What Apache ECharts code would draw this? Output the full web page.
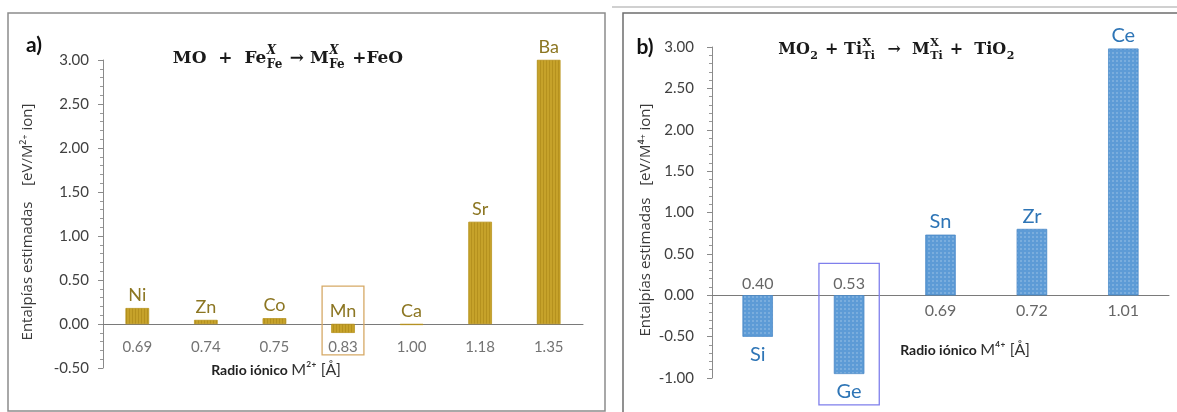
<!DOCTYPE html>
<html><head><meta charset="utf-8">
<script src="https://cdn.jsdelivr.net/npm/echarts@6/dist/echarts.min.js"></script>
<style>html,body{margin:0;padding:0;background:#fff}#c{width:1177px;height:412px}</style>
</head><body><div id="c"></div>
<script>
// ---- data (panel a) ----
const radiiA = ['0.69', '0.74', '0.75', '0.83', '1.00', '1.18', '1.35'];
const elementsA = ['Ni', 'Zn', 'Co', 'Mn', 'Ca', 'Sr', 'Ba'];
const valuesA = [0.18, 0.045, 0.065, -0.10, -0.01, 1.16, 3.00];
const yTicksA = [-0.5, 0, 0.5, 1.0, 1.5, 2.0, 2.5, 3.0];
// ---- data (panel b) ----
const radiiB = ['0.40', '0.53', '0.69', '0.72', '1.01'];
const elementsB = ['Si', 'Ge', 'Sn', 'Zr', 'Ce'];
const valuesB = [-0.50, -0.95, 0.73, 0.80, 2.98];
const yTicksB = [-1.0, -0.5, 0, 0.5, 1.0, 1.5, 2.0, 2.5, 3.0];
const highlightA = 'Mn';
const highlightB = 'Ge';

const SERIF = '"DejaVu Serif", "Liberation Serif", serif';

function buildMath(parts, cx, cy, size) {
  const ctx = document.createElement('canvas').getContext('2d');
  const main = 'bold ' + size + 'px ' + SERIF;
  const ss = Math.round(size * 0.7);
  const small = 'bold ' + ss + 'px ' + SERIF;
  const smallI = 'italic bold ' + ss + 'px ' + SERIF;
  const items = []; let x = 0;
  parts.forEach(p => {
    if (p.t !== undefined) {
      ctx.font = main; const w = ctx.measureText(p.t).width;
      items.push({ text: p.t, font: main, x: x, dy: 0 }); x += w;
    } else {
      let w = 0;
      if (p.sup) { const f = p.it ? smallI : small; ctx.font = f; w = Math.max(w, ctx.measureText(p.sup).width); items.push({ text: p.sup, font: f, x: x + 0.5, dy: -size * 0.45 }); }
      if (p.sub) { ctx.font = small; w = Math.max(w, ctx.measureText(p.sub).width); items.push({ text: p.sub, font: small, x: x + 0.5, dy: size * 0.36 }); }
      x += w + 2;
    }
  });
  const x0 = cx - x / 2;
  return items.map(it => ({
    type: 'text', x: x0 + it.x, y: cy + it.dy, silent: true,
    style: { text: it.text, font: it.font, fill: '#1a1a1a', textVerticalAlign: 'middle', verticalAlign: 'middle', textAlign: 'left', align: 'left' }
  }));
}

const titleA = buildMath([
  { t: 'MO  +  Fe' }, { sup: 'X', sub: 'Fe', it: true }, { t: ' \u2192 M' }, { sup: 'X', sub: 'Fe', it: true }, { t: ' +FeO' }
], 288, 59, 17);
const titleB = buildMath([
  { t: 'MO' }, { sub: '2' }, { t: ' + Ti' }, { sup: 'X', sub: 'Ti' }, { t: '  \u2192  M' }, { sup: 'X', sub: 'Ti' }, { t: ' +  TiO' }, { sub: '2' }
], 897, 50, 16);

function txt(x, y, text, font, fill, rot, align) {
  return { type: 'text', x: x, y: y, rotation: rot || 0, silent: true,
    style: { text: text, font: font, fill: fill, textAlign: align || 'center', align: align || 'center', textVerticalAlign: 'middle', verticalAlign: 'middle' } };
}
function richTxt(x, y, text, rich) {
  return { type: 'text', x: x, y: y, silent: true,
    style: { text: text, rich: rich, textAlign: 'center', align: 'center', textVerticalAlign: 'middle', verticalAlign: 'middle' } };
}
const axisRich = {
  b: { fontFamily: 'Lato', fontWeight: 'bold', fontSize: 14, fill: '#222', color: '#222' },
  n: { fontFamily: 'Lato', fontSize: 16, fill: '#333', color: '#333' }
};

function yAxisCfg(grid, ticks, margin) {
  return {
    gridIndex: grid, type: 'value', min: ticks[0], max: ticks[ticks.length - 1], interval: ticks[1] - ticks[0],
    axisLine: { show: true, lineStyle: { color: '#8a8a8a', width: 1 } },
    axisTick: { show: true, length: 5, lineStyle: { color: '#8a8a8a' } },
    minorTick: { show: true, splitNumber: 5, length: 3, lineStyle: { color: '#999' } },
    splitLine: { show: false },
    axisLabel: { formatter: v => v.toFixed(2), color: '#404040', fontSize: 15, fontFamily: 'Lato', margin: margin }
  };
}
function xAxisCfg(grid, cats) {
  return { gridIndex: grid, type: 'category', data: cats,
    axisLine: { onZero: true, lineStyle: { color: '#7a7a7a', width: 1 } }, axisTick: { show: false },
    axisLabel: { show: false }, splitLine: { show: false } };
}

// category value labels placed at the zero line (above for negative bars in b)
function radiusSeries(grid, radii, vals, below, above, fontSize, color, flip) {
  return { type: 'scatter', xAxisIndex: grid, yAxisIndex: grid, symbolSize: 0.1, silent: true, itemStyle: { color: 'transparent' },
    data: radii.map((r, i) => {
      const up = flip && vals[i] < 0;
      return { value: [i, 0], label: { position: up ? 'top' : 'bottom', distance: up ? above : below } };
    }),
    label: { show: true, formatter: p => radii[p.dataIndex], color: color, fontSize: fontSize, fontFamily: 'Lato' } };
}

function boxSeries(xi, yi, idx, top, bottom, frac, color) {
  return {
    type: 'custom', xAxisIndex: xi, yAxisIndex: yi, clip: false, silent: true, z: 5,
    data: [[idx, top, bottom]],
    renderItem: (params, api) => {
      const c = api.value(0);
      const p1 = api.coord([c, api.value(1)]);
      const p2 = api.coord([c, api.value(2)]);
      const bw = api.size([1, 0])[0] * frac;
      return { type: 'rect', shape: { x: p1[0] - bw / 2, y: p1[1], width: bw, height: p2[1] - p1[1] },
        style: { fill: 'none', stroke: color, lineWidth: 1.3 } };
    }
  };
}

const option = {
  animation: false,
  backgroundColor: '#fff',
  grid: [
    { left: 103, top: 60, width: 480, height: 308 },
    { left: 712, top: 47, width: 457, height: 331 }
  ],
  xAxis: [xAxisCfg(0, radiiA), xAxisCfg(1, radiiB)],
  yAxis: [yAxisCfg(0, yTicksA, 14), yAxisCfg(1, yTicksB, 18)],
  series: [
    { type: 'bar', xAxisIndex: 0, yAxisIndex: 0, barWidth: '34%', data: valuesA,
      itemStyle: { color: '#c6a22a', borderColor: '#b8941e', borderWidth: 0.5,
        decal: { symbol: 'rect', symbolSize: 1, dashArrayX: [1, 2], dashArrayY: [4, 0], color: 'rgba(150,115,10,0.35)', rotation: 0 } },
      label: { show: true, position: 'top', distance: 4, formatter: p => elementsA[p.dataIndex],
        color: '#8c7622', fontSize: 18, fontFamily: 'Lato' } },
    { type: 'bar', xAxisIndex: 1, yAxisIndex: 1, barWidth: '33%',
      data: valuesB.map(v => ({ value: v, label: { position: v < 0 ? 'bottom' : 'top', distance: v < 0 ? 8 : 3 } })),
      itemStyle: { color: '#5d9bd6', borderColor: '#4a88c6', borderWidth: 0.5,
        decal: { symbol: 'rect', symbolSize: 1, dashArrayX: [2, 2], dashArrayY: [2, 2], color: 'rgba(255,255,255,0.18)', rotation: 0 } },
      label: { show: true, formatter: p => elementsB[p.dataIndex], color: '#2e75b6', fontSize: 20, fontFamily: 'Lato' } },
    radiusSeries(0, radiiA, valuesA, 16, 3, 15, '#505050', false),
    radiusSeries(1, radiiB, valuesB, 8, 3, 16, '#404040', true),
    boxSeries(0, 0, elementsA.indexOf(highlightA), 0.43, -0.35, 0.61, '#d6a966'),
    boxSeries(1, 1, elementsB.indexOf(highlightB), 0.385, -1.325, 0.66, '#7f7fec')
  ],
  graphic: [
    { type: 'rect', shape: { x: 8, y: 13, width: 597, height: 398 }, silent: true, style: { fill: 'none', stroke: '#8c8c8c', lineWidth: 1.5 } },
    { type: 'polyline', shape: { points: [[623, 412], [623, 13], [1177, 13]] }, silent: true, style: { fill: 'none', stroke: '#6e6e6e', lineWidth: 1.5 } },
    { type: 'line', shape: { x1: 612, y1: 7, x2: 1177, y2: 7 }, silent: true, style: { stroke: '#d0d0d0', lineWidth: 2 } },
    txt(34, 45, 'a)', 'bold 21px Lato', '#111'),
    txt(645, 47, 'b)', 'bold 21px Lato', '#111'),
    txt(28, 222, 'Entalpías estimadas    [eV/M²⁺ ion]', '15px "Open Sans"', '#3a3a3a', Math.PI / 2),
    txt(646, 220, 'Entalpías estimadas   [eV/M⁴⁺ ion]', '15px "Open Sans"', '#3a3a3a', Math.PI / 2),
    richTxt(276, 370, '{b|Radio iónico} {n|M²⁺ [Å]}', axisRich),
    richTxt(965, 350, '{b|Radio iónico} {n|M⁴⁺ [Å]}', axisRich)
  ].concat(titleA, titleB)
};

const chart = echarts.init(document.getElementById('c'), null, { renderer: 'canvas' });
chart.setOption(option);
</script>
</body></html>
